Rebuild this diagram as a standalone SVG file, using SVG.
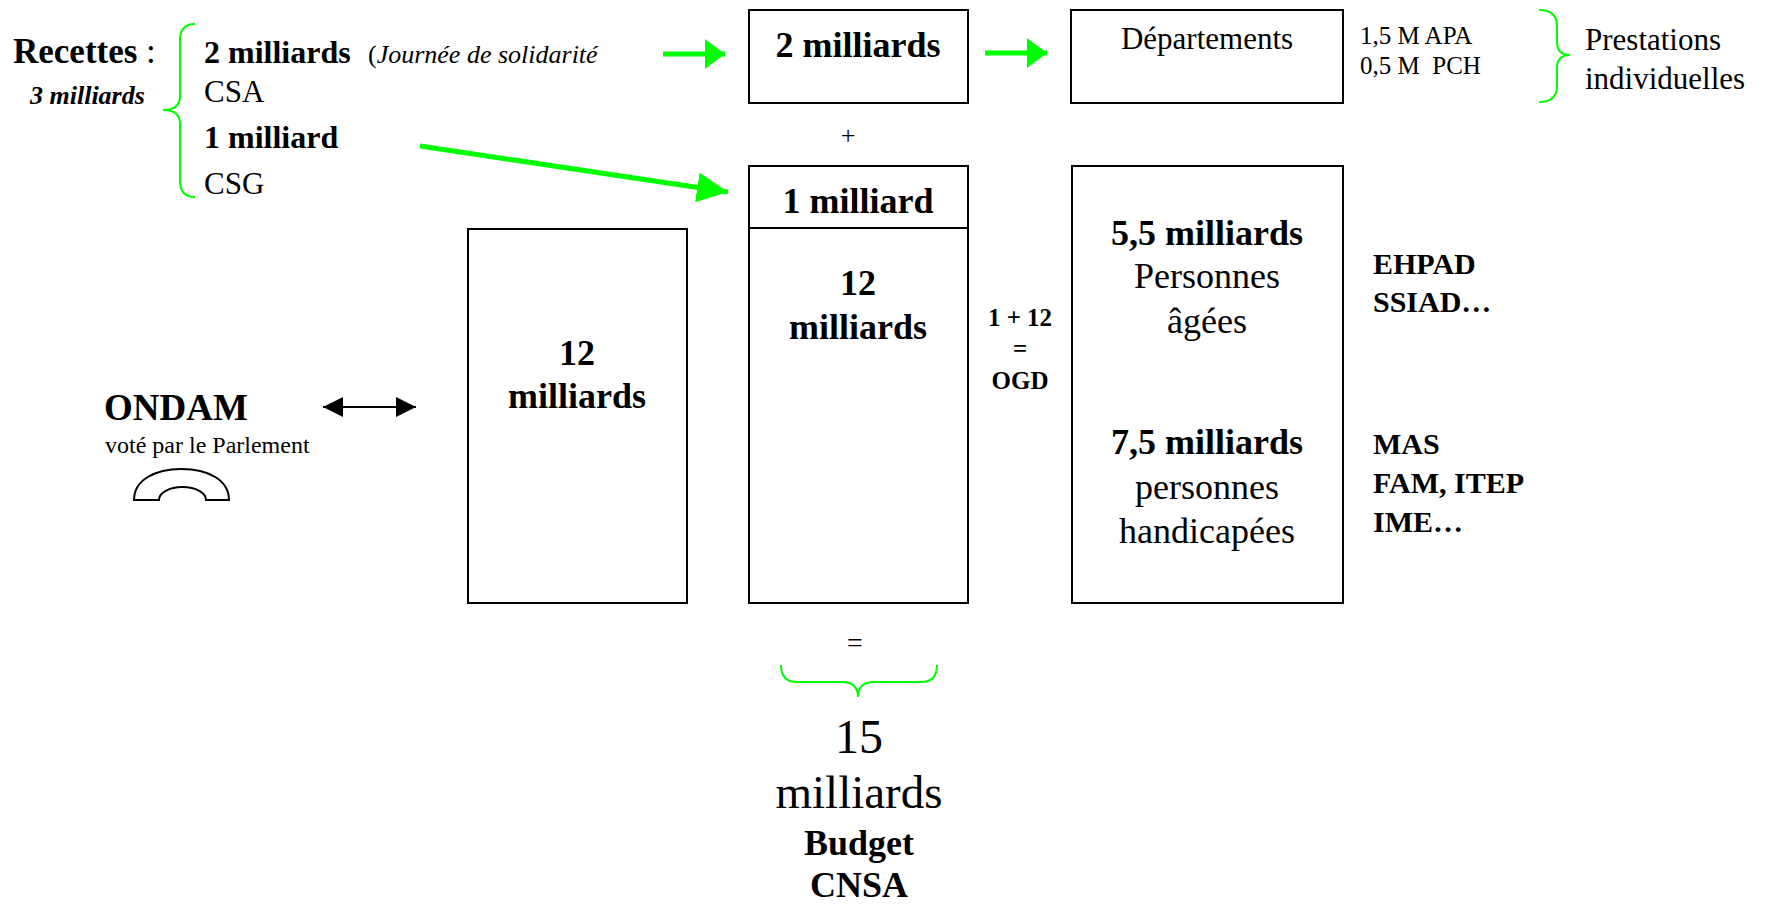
<svg xmlns="http://www.w3.org/2000/svg" width="1768" height="905" viewBox="0 0 1768 905">
<defs>
<style>
text{font-family:"Liberation Serif","Times New Roman",serif;fill:#000}
.b{font-weight:bold}
.i{font-style:italic}
.box{fill:#fff;stroke:#000;stroke-width:2}
.g{fill:none;stroke:#00ff00;stroke-width:2}
.ga{stroke:#00ff00;stroke-width:5;fill:none}
.c{text-anchor:middle}
</style>
<marker id="gh" viewBox="0 0 20 30" refX="20" refY="15" markerWidth="20" markerHeight="30" markerUnits="userSpaceOnUse" orient="auto">
<path d="M0,0 L20,15 L0,30 Z" fill="#00ff00"/>
</marker>
<marker id="gh2" viewBox="0 0 31 30" refX="31" refY="15" markerWidth="31" markerHeight="30" markerUnits="userSpaceOnUse" orient="auto">
<path d="M0,0 L31,15 L0,30 Z" fill="#00ff00"/>
</marker>
<marker id="bh" viewBox="0 0 20 20" refX="20" refY="10" markerWidth="20" markerHeight="20" markerUnits="userSpaceOnUse" orient="auto-start-reverse">
<path d="M0,0 L20,10 L0,20 Z" fill="#000"/>
</marker>
</defs>
<rect width="1768" height="905" fill="#fff"/>

<g id="recettes">
<text x="13" y="63" font-size="35"><tspan class="b">Recettes</tspan> :</text>
<text x="30" y="104" font-size="26" class="b i">3 milliards</text>
<path class="g" d="M195,24 Q180,24 180,40 L180,96 Q180,110 163,110 Q180,110 180,124 L180,181 Q180,197 195,197"/>
<text x="204" y="63" font-size="32"><tspan class="b">2 milliards</tspan><tspan x="368" font-size="26">(</tspan><tspan class="i" font-size="26">Journée de solidarité</tspan></text>
<text x="204" y="102" font-size="31">CSA</text>
<text x="204" y="148" font-size="32" class="b">1 milliard</text>
<text x="204" y="194" font-size="31">CSG</text>
</g>

<g id="box-2milliards">
<rect class="box" x="749" y="10" width="219" height="93"/>
<text class="b c" x="858" y="57" font-size="36">2 milliards</text>
</g>

<g id="plus">
<text class="c" x="848" y="144" font-size="26">+</text>
</g>

<g id="box-departements">
<rect class="box" x="1071" y="10" width="272" height="93"/>
<text class="c" x="1207" y="49" font-size="31">Départements</text>
</g>

<g id="prestations">
<text x="1360" y="44" font-size="25">1,5 M APA</text>
<text x="1360" y="74" font-size="25" xml:space="preserve">0,5 M  PCH</text>
<path class="g" d="M1539,10 Q1557,10 1557,26 L1557,42 Q1557,55 1570,55 Q1557,55 1557,68 L1557,86 Q1557,102 1539,102"/>
<text x="1585" y="50" font-size="31">Prestations</text>
<text x="1585" y="89" font-size="31">individuelles</text>
</g>

<g id="box-ondam-12">
<rect class="box" x="468" y="229" width="219" height="374"/>
<text class="b c" x="577" y="365" font-size="36">12</text>
<text class="b c" x="577" y="408" font-size="36">milliards</text>
</g>

<g id="box-cnsa">
<rect class="box" x="749" y="166" width="219" height="437"/>
<line x1="749" y1="228" x2="968" y2="228" stroke="#000" stroke-width="2"/>
<text class="b c" x="858" y="213" font-size="36">1 milliard</text>
<text class="b c" x="858" y="295" font-size="36">12</text>
<text class="b c" x="858" y="339" font-size="36">milliards</text>
</g>

<g id="ogd">
<text class="b c" x="1020" y="326" font-size="25">1 + 12</text>
<text class="b c" x="1020" y="357" font-size="25">=</text>
<text class="b c" x="1020" y="389" font-size="25">OGD</text>
</g>

<g id="box-repartition">
<rect class="box" x="1072" y="166" width="271" height="437"/>
<text class="b c" x="1207" y="245" font-size="36">5,5 milliards</text>
<text class="c" x="1207" y="288" font-size="36">Personnes</text>
<text class="c" x="1207" y="333" font-size="36">âgées</text>
<text class="b c" x="1207" y="454" font-size="36">7,5 milliards</text>
<text class="c" x="1207" y="499" font-size="36">personnes</text>
<text class="c" x="1207" y="543" font-size="36">handicapées</text>
</g>

<g id="etablissements">
<text class="b" x="1373" y="274" font-size="30">EHPAD</text>
<text class="b" x="1373" y="312" font-size="30">SSIAD…</text>
<text class="b" x="1373" y="454" font-size="30">MAS</text>
<text class="b" x="1373" y="493" font-size="30">FAM, ITEP</text>
<text class="b" x="1373" y="532" font-size="30">IME…</text>
</g>

<g id="ondam">
<text class="b" x="104" y="420" font-size="37">ONDAM</text>
<text x="105" y="453" font-size="24">voté par le Parlement</text>
<path d="M134,500 C134,480 155,469 181.5,469 C208,469 229,480 229,500 L206,500 C206,493 196,487 182.5,487 C169,487 159,493 159,500 Z" fill="#fff" stroke="#000" stroke-width="2"/>
</g>

<g id="total">
<text class="c" x="855" y="652" font-size="28">=</text>
<path class="g" d="M781,665 Q781,682 797,682 L842,682 Q858,682 858,697 Q858,682 874,682 L921,682 Q937,682 937,665"/>
<text class="c" x="859" y="753" font-size="48">15</text>
<text class="c" x="859" y="808" font-size="47">milliards</text>
<text class="b c" x="859" y="855" font-size="36">Budget</text>
<text class="b c" x="859" y="897" font-size="36">CNSA</text>
</g>

<g id="connectors">
<line class="ga" x1="663" y1="54" x2="725" y2="54" marker-end="url(#gh)"/>
<line class="ga" x1="985" y1="53" x2="1047" y2="53" marker-end="url(#gh)"/>
<line class="ga" x1="420" y1="146" x2="728" y2="192" marker-end="url(#gh2)"/>
<line x1="323" y1="407" x2="416" y2="407" stroke="#000" stroke-width="2" marker-start="url(#bh)" marker-end="url(#bh)"/>
</g>
</svg>
